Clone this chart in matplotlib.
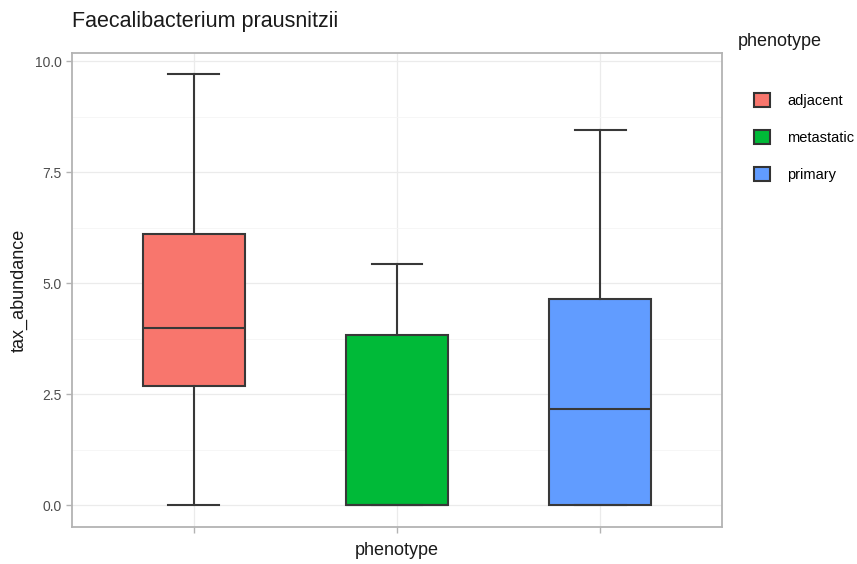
import matplotlib
matplotlib.use("Agg")
import matplotlib.pyplot as plt
from matplotlib.patches import Patch
from matplotlib.ticker import MultipleLocator

plt.rcParams['font.family'] = ['Liberation Sans', 'DejaVu Sans']

categories = ["adjacent", "metastatic", "primary"]
colors = ["#F8766D", "#00BA38", "#619CFF"]
whislo = [0.0, 0.0, 0.0]
q1 = [2.69, 0.0, 0.0]
med = [4.0, 0.02, 2.17]
q3 = [6.12, 3.84, 4.65]
whishi = [9.71, 5.44, 8.46]

fig = plt.figure(figsize=(8.57, 5.64), dpi=100)
ax = fig.add_axes([72/857, 1-527/564, 650/857, 474/564])

stats = []
for i, c in enumerate(categories):
    stats.append(dict(label=c, whislo=whislo[i], q1=q1[i], med=med[i], q3=q3[i], whishi=whishi[i], fliers=[]))

pos = [1, 2, 3]
lc = "#383838"
bp = ax.bxp(stats, positions=pos, widths=0.5, patch_artist=True, showfliers=False,
            boxprops=dict(edgecolor=lc, linewidth=1.5),
            medianprops=dict(color=lc, linewidth=1.5),
            whiskerprops=dict(color=lc, linewidth=1.5),
            capprops=dict(color=lc, linewidth=1.5),
            capwidths=0.25, zorder=3)
for patch, col in zip(bp['boxes'], colors):
    patch.set_facecolor(col)

ax.set_xlim(0.4, 3.6)
ax.set_ylim(-0.485, 10.19)
ax.set_xticks(pos)
ax.set_xticklabels(["", "", ""])
ax.yaxis.set_minor_locator(MultipleLocator(1.25))
ax.set_yticks([0, 2.5, 5.0, 7.5, 10.0])
ax.set_yticklabels(["0.0", "2.5", "5.0", "7.5", "10.0"])
ax.grid(True, which='major', color="#EBEBEB", linewidth=0.9, zorder=0)
ax.grid(True, which='minor', axis='y', color="#F5F5F5", linewidth=0.6, zorder=0)
ax.set_axisbelow(True)
for s in ax.spines.values():
    s.set_color("#B3B3B3")
    s.set_linewidth(1.3)
ax.tick_params(axis='both', which='major', color="#B3B3B3", length=4, width=1.0,
               labelsize=10, labelcolor="#4D4D4D")
ax.tick_params(axis='both', which='minor', length=0)

ax.set_xlabel("phenotype", fontsize=13, color="#1A1A1A", labelpad=3)
ax.set_ylabel("tax_abundance", fontsize=13, color="#1A1A1A", labelpad=5)
fig.text(72/857, 1-22/564, "Faecalibacterium prausnitzii", fontsize=15.5, color="#1A1A1A",
         ha='left', va='center')

fig.text(738/857, 1-42/564, "phenotype", fontsize=13, color="#1A1A1A", ha='left', va='center')
handles = [Patch(facecolor=c, edgecolor="#333333", linewidth=1.5, label=l) for c, l in zip(colors, categories)]
leg = fig.legend(handles=handles, loc='upper left',
                 bbox_to_anchor=(754/857, 1-93/564), frameon=False,
                 fontsize=10.5, handlelength=1.1, handleheight=1.1,
                 labelspacing=1.5, handletextpad=1.2, borderpad=0.0, borderaxespad=0.0)

fig.savefig("out.png", dpi=100)
